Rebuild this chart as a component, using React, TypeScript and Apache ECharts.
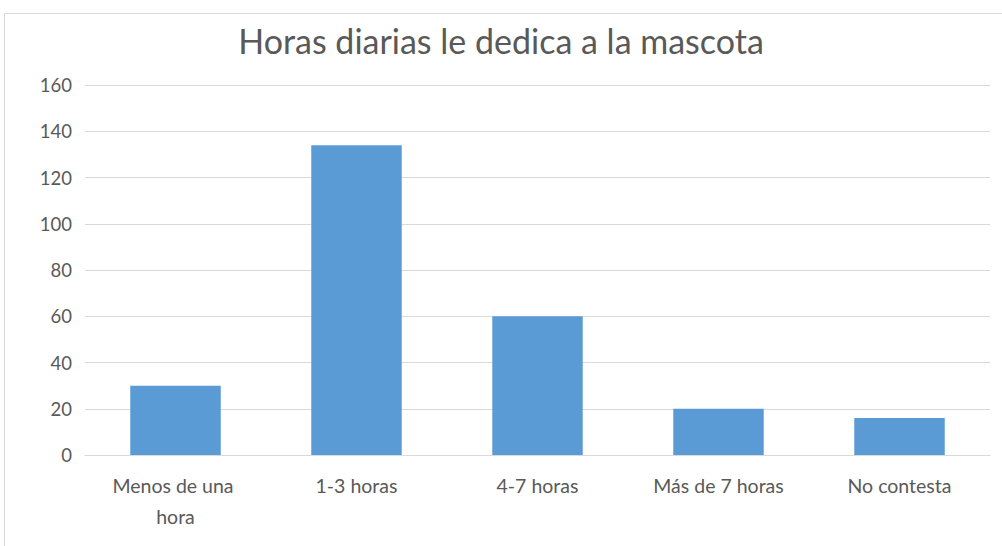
import React, { useEffect, useRef } from "react";
import * as echarts from "echarts";

const title = "Horas diarias le dedica a la mascota";
const categories = ["Menos de una hora", "1-3 horas", "4-7 horas", "Más de 7 horas", "No contesta"];
const values = [30, 134, 60, 20, 16];
const yMin = 0;
const yMax = 160;
const yStep = 20;

export default function App() {
  const ref = useRef<HTMLDivElement>(null);
  useEffect(() => {
    if (!ref.current) return;
    const chart = echarts.init(ref.current, undefined, { renderer: "svg" });
    const font = "Lato, 'Open Sans', sans-serif";
    chart.setOption({
      animation: false,
      backgroundColor: "#ffffff",
      graphic: [
        {
          type: "rect",
          shape: { x: 4.5, y: 13.5, width: 1100, height: 600 },
          style: { fill: "none", stroke: "#d9d9d9", lineWidth: 1 },
          silent: true,
        },
      ],
      title: {
        text: title,
        left: "center",
        top: 18,
        textStyle: { fontFamily: font, fontSize: 34, fontWeight: "normal", color: "#595959" },
      },
      grid: { left: 85, right: 12, top: 85, bottom: 91, containLabel: false },
      xAxis: {
        type: "category",
        data: categories,
        axisLine: { show: true, lineStyle: { color: "#d9d9d9" } },
        axisTick: { show: false },
        axisLabel: {
          color: "#595959",
          fontFamily: font,
          fontSize: 19.5,
          margin: 15,
          lineHeight: 31,
          width: 150,
          overflow: "break",
          interval: 0,
        },
      },
      yAxis: {
        type: "value",
        min: yMin,
        max: yMax,
        interval: yStep,
        axisLine: { show: false },
        axisTick: { show: false },
        axisLabel: { color: "#595959", fontFamily: font, fontSize: 18.5, margin: 13 },
        splitLine: { lineStyle: { color: "#d9d9d9", width: 1 } },
      },
      series: [
        {
          type: "bar",
          data: values,
          barWidth: "50%",
          itemStyle: { color: "#5b9bd5" },
        },
      ],
    });
    return () => chart.dispose();
  }, []);
  return <div ref={ref} style={{ width: 1002, height: 546, position: "absolute", left: 0, top: 0 }} />;
}
